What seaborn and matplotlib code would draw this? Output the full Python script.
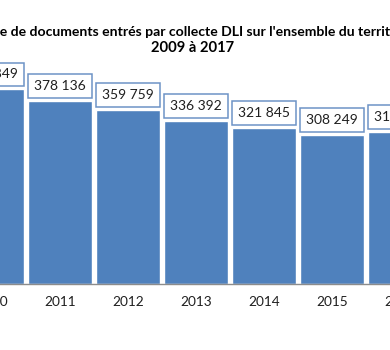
import matplotlib
matplotlib.use("Agg")
import matplotlib.pyplot as plt
import seaborn as sns
import pandas as pd

# Documents collected through DLI, per year
years = ["2010", "2011", "2012", "2013", "2014", "2015", "2016"]
documents = [401849, 378136, 359759, 336392, 321845, 308249, 313264]

title_line1 = "Nombre de documents entrés par collecte DLI sur l'ensemble du territoire"
title_line2 = "2009 à 2017"

df = pd.DataFrame({"annee": years, "documents": documents})

sns.set_theme(style="white")
plt.rcParams["font.family"] = ["Lato", "DejaVu Sans"]

W, H = 390, 350
fig = plt.figure(figsize=(W / 100, H / 100), dpi=100)

# axes geometry in pixels (the plot area runs past both figure edges)
base_px = 284          # baseline from top
y_top_val = 480000
px_per_unit = 1 / 2065
ax_h_px = y_top_val * px_per_unit
ax_left_px, ax_right_px = -80, 470
ax = fig.add_axes([ax_left_px / W, (H - base_px) / H,
                   (ax_right_px - ax_left_px) / W, ax_h_px / H])

bar_color = "#4F81BD"
sns.barplot(data=df, x="annee", y="documents", color=bar_color, saturation=1,
            width=0.93, ax=ax)

def fmt(v):
    return f"{int(v):,}".replace(",", " ")

ax.bar_label(ax.containers[0], labels=[fmt(v) for v in documents], padding=6.5,
             fontsize=10.0, color="#1F1F1F",
             bbox=dict(boxstyle="square,pad=0.42", fc="white", ec="#6D93C6", lw=1.1))

for s in ["top", "left", "right"]:
    ax.spines[s].set_visible(False)
ax.spines["bottom"].set_color("#8C8C8C")
ax.spines["bottom"].set_linewidth(1.0)
ax.set_yticks([])
ax.set_xlabel("")
ax.set_ylabel("")

# tick marks between categories, labels at centres
ax.set_xticks([i + 0.5 for i in range(-1, len(years))], minor=True)
ax.tick_params(axis="x", which="minor", length=4, width=1, color="#8C8C8C", direction="out")
ax.tick_params(axis="x", which="major", length=0, pad=9, labelsize=9.8, labelcolor="#1F1F1F")

# category spacing: 68 px, first category centred at -8 px
spacing = 68.0
x0 = -8.0
ax.set_xlim((ax_left_px - x0) / spacing, (ax_right_px - x0) / spacing)
ax.set_ylim(0, y_top_val)

# first title line starts just off the left edge
t1_size = 10.1
probe = fig.text(0, 0, "Nombr", fontsize=t1_size, fontweight="bold")
renderer = fig.canvas.get_renderer()
lead_w = probe.get_window_extent(renderer).width
probe.remove()
fig.text(-lead_w / W, 1 - 32 / H, title_line1, ha="left", va="center",
         fontsize=t1_size, fontweight="bold", color="#000000")
fig.text(193 / W, 1 - 48.5 / H, title_line2, ha="center", va="center",
         fontsize=10.6, fontweight="bold", color="#000000")

fig.savefig("out.png", dpi=100, facecolor="white")
